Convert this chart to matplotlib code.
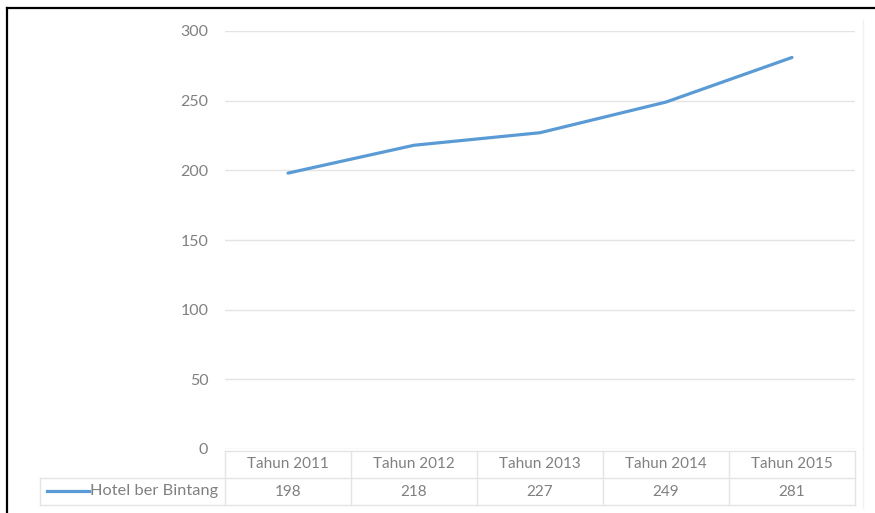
import matplotlib.pyplot as plt
from matplotlib.lines import Line2D

categories = ["Tahun 2011", "Tahun 2012", "Tahun 2013", "Tahun 2014", "Tahun 2015"]
series_name = "Hotel ber Bintang"
values = [198, 218, 227, 249, 281]
yticks = [0, 50, 100, 150, 200, 250, 300]

plt.rcParams['font.family'] = ['Lato', 'DejaVu Sans']
txt = '#808080'
grid = '#e4e4e4'
blue = '#5b9bd5'

W, H = 875, 513
fig = plt.figure(figsize=(W / 100, H / 100), dpi=100)
ax = fig.add_axes([225 / W, (H - 449) / H, 630 / W, 418 / H])

x = list(range(len(categories)))
ax.plot(x, values, color=blue, lw=2.3, solid_capstyle='round')
ax.set_xlim(-0.5, len(categories) - 0.5)
ax.set_ylim(0, 300)
ax.set_yticks(yticks)
ax.set_yticklabels([str(v) for v in yticks], color=txt, fontsize=11.5)
ax.tick_params(axis='y', length=0, pad=12)
ax.set_xticks([])
for s in ax.spines.values():
    s.set_visible(False)
ax.grid(axis='y', color=grid, lw=1)
ax.set_axisbelow(True)

# data table below the plot
tr = ax.get_xaxis_transform()
y_top, y_mid, y_bot = -2 / 418, -29 / 418, -56 / 418
for i in range(len(categories) + 1):
    ax.plot([i - 0.5, i - 0.5], [y_top, y_bot], color=grid, lw=1, transform=tr, clip_on=False)
ax.plot([-0.5, len(categories) - 0.5], [y_top, y_top], color=grid, lw=1, transform=tr, clip_on=False)
for i, c in enumerate(categories):
    ax.text(i, (y_top + y_mid) / 2, c, ha='center', va='center', color=txt, fontsize=11,
            transform=tr)
    ax.text(i, (y_mid + y_bot) / 2, str(values[i]), ha='center', va='center', color=txt,
            fontsize=11, transform=tr)

# legend cell rows in figure pixels
def fx(px):
    return px / W

def fy(py):
    return (H - py) / H

fig.add_artist(Line2D([fx(40), fx(855)], [fy(478), fy(478)], color=grid, lw=1))
fig.add_artist(Line2D([fx(40), fx(855)], [fy(505), fy(505)], color=grid, lw=1))
fig.add_artist(Line2D([fx(40), fx(40)], [fy(478), fy(505)], color=grid, lw=1))
fig.add_artist(Line2D([fx(47), fx(89)], [fy(491), fy(491)], color=blue, lw=2.3))
fig.text(fx(90), fy(491), series_name, ha='left', va='center', color=txt, fontsize=11.8)

# faint chart-area edge on the right
fig.add_artist(Line2D([fx(863), fx(863)], [fy(20), fy(508)], color='#f0f0f0', lw=1))

# outer frame (left and top visible)
fig.add_artist(Line2D([fx(7), fx(7)], [fy(8), 0], color='black', lw=1.6))
fig.add_artist(Line2D([fx(7), 1], [fy(8), fy(8)], color='black', lw=1.6))

fig.savefig('out.png', dpi=100)
